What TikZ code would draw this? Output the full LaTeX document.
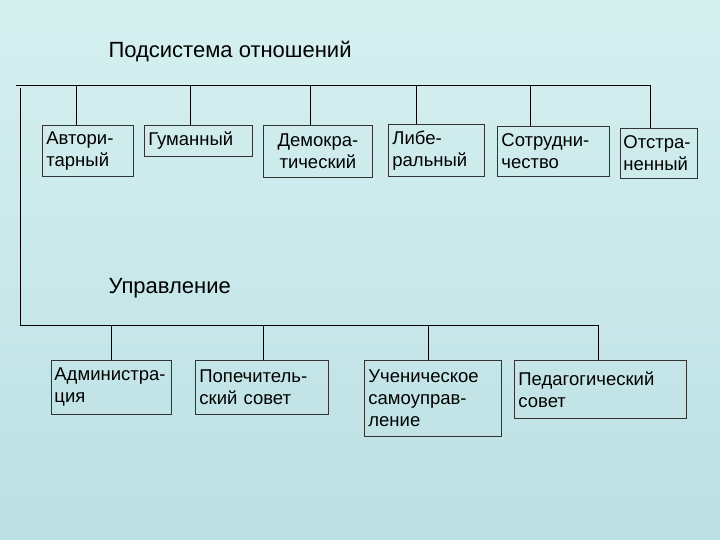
\documentclass[tikz,border=0pt]{standalone}
\usepackage{fontspec}
\setmainfont{Liberation Sans}
\begin{document}
\begin{tikzpicture}[x=1pt,y=-1pt,
  box/.style={draw=black!80,line width=0.8pt,anchor=north west,align=left,font=\fontsize{18.5}{22}\selectfont,inner xsep=4pt,inner ysep=3pt},
  ln/.style={line width=0.8pt,black}]
\shade[top color={rgb,255:red,214;green,240;blue,240},bottom color={rgb,255:red,188;green,224;blue,228}] (0,0) rectangle (720,540);
\useasboundingbox (0,0) rectangle (720,540);
\node[anchor=west,font=\fontsize{22}{26}\selectfont] (t1) at (105,52) {Подсистема отношений};
\node[anchor=west,font=\fontsize{22}{26}\selectfont] (t2) at (105,288) {Управление};
% top boxes
\node[box,minimum width=91,minimum height=51,text width=83] (a1) at (42,125) {\mbox{Автори-}\\тарный};
\node[box,minimum width=108,minimum height=31,text width=100] (a2) at (144,125) {Гуманный};
\node[box,minimum width=109,minimum height=52,text width=101,align=center] (a3) at (263,125) {\mbox{Демокра-}\\тический};
\node[box,minimum width=96,minimum height=52,text width=88] (a4) at (388,124) {\mbox{Либе-}\\ральный};
\node[box,minimum width=112,minimum height=50,text width=104] (a5) at (497,126) {\mbox{Сотрудни-}\\чество};
\node[box,minimum width=77,minimum height=50,text width=71,inner xsep=3pt] (a6) at (620,128) {\mbox{Отстра-}\\\mbox{ненный}};
% bottom boxes
\node[box,minimum width=120,minimum height=54,text width=114,inner xsep=3pt] (b1) at (51,360) {\mbox{Администра-}\\ция};
\node[box,minimum width=133,minimum height=54,text width=125] (b2) at (195,360) {\mbox{Попечитель-}\\ский совет};
\node[box,minimum width=137,minimum height=76,text width=129] (b3) at (364,360) {Ученическое\\\mbox{самоуправ-}\\ление};
\node[box,minimum width=172,minimum height=58,text width=164] (b4) at (514,360) {Педагогический\\совет};
% lines
\coordinate (L0) at (16,85);
\coordinate (L1) at (650,85);
\coordinate (V0) at (20,88);
\coordinate (V1) at (20,325);
\coordinate (H1) at (598,325);
\draw[ln] (L0) -- (L1);
\draw[ln] (V0) -- (V1) -- (H1);
\foreach \x/\n in {76/a1,190/a2,310/a3,416/a4,530/a5,650/a6}
  \draw[ln] (\x,85) -- (\x,85 |- \n.north);
\foreach \x/\n in {111/b1,263/b2,428/b3,598/b4}
  \draw[ln] (\x,325) -- (\x,325 |- \n.north);
\end{tikzpicture}
\end{document}
